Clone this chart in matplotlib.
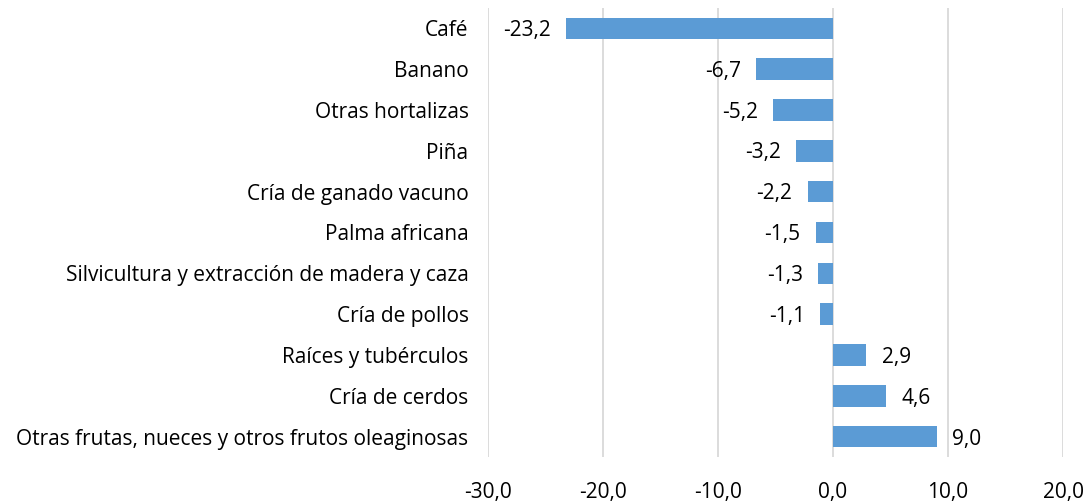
import matplotlib.pyplot as plt

categories = [
    "Café", "Banano", "Otras hortalizas", "Piña", "Cría de ganado vacuno",
    "Palma africana", "Silvicultura y extracción de madera y caza",
    "Cría de pollos", "Raíces y tubérculos", "Cría de cerdos",
    "Otras frutas, nueces y otros frutos oleaginosas",
]
values = [-23.2, -6.7, -5.2, -3.2, -2.2, -1.5, -1.3, -1.1, 2.9, 4.6, 9.0]
xticks = [-30, -20, -10, 0, 10, 20]

plt.rcParams["font.family"] = ["Open Sans", "DejaVu Sans"]
fs = 15

fig = plt.figure(figsize=(10.87, 5.04), dpi=100)
ax = fig.add_axes([488 / 1087, 1 - 457 / 504, (1063 - 488) / 1087, (457 - 8) / 504])

ypos = list(range(len(categories)))
ax.barh(ypos, values, height=0.53, color="#5B9BD5", zorder=3)
ax.set_ylim(len(categories) - 0.5, -0.5)
ax.set_xlim(-30, 20)
ax.set_xticks(xticks)
ax.set_xticklabels([f"{v:.1f}".replace(".", ",") for v in xticks], fontsize=fs)
ax.set_yticks(ypos)
ax.set_yticklabels(categories, fontsize=fs)
ax.tick_params(length=0)
ax.tick_params(axis="y", pad=14)
ax.tick_params(axis="x", pad=18)
ax.grid(axis="x", color="#d9d9d9", lw=1.3, zorder=0)
for s in ax.spines.values():
    s.set_visible(False)

for y, v in zip(ypos, values):
    lab = f"{v:.1f}".replace(".", ",")
    if v < 0:
        ax.annotate(lab, (v, y), xytext=(-11, -1.5), textcoords="offset points",
                    ha="right", va="center", fontsize=fs)
    else:
        ax.annotate(lab, (v, y), xytext=(11, -2), textcoords="offset points",
                    ha="left", va="center", fontsize=fs)

fig.savefig("out.png", dpi=100)
